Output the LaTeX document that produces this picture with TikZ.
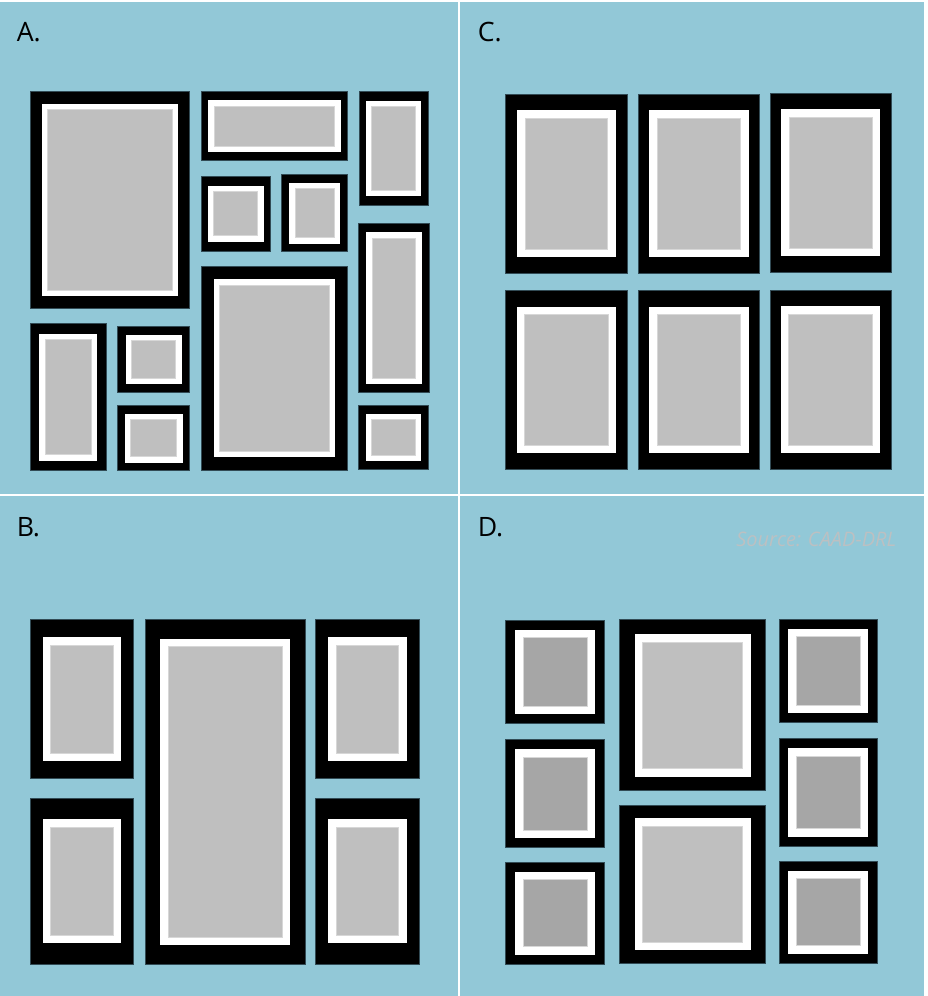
\documentclass[tikz,border=0pt]{standalone}
\usepackage{fontspec}
\setmainfont{Open Sans}
\usepackage{tikz}

\definecolor{wallblue}{RGB}{146,200,215}
\definecolor{photogray}{RGB}{191,191,191}
\definecolor{photodark}{RGB}{166,166,166}
\definecolor{photoedge}{RGB}{215,215,215}
\definecolor{frameedge}{RGB}{50,75,85}
\definecolor{srcgray}{RGB}{188,192,194}

% frame: [photo style]{x1}{y1}{x2}{y2}{black x}{black y}{white}
\newcommand{\wallframe}[8][photo]{%
  \filldraw[frameblk] (#2,#3) rectangle (#4,#5);
  \fill[matte] ({#2+#6},{#3+#7}) rectangle ({#4-#6},{#5-#7});
  \filldraw[#1] ({#2+#6+#8},{#3+#7+#8}) rectangle ({#4-#6-#8},{#5-#7-#8});}

\begin{document}
\begin{tikzpicture}[
  x=0.75pt, y=-0.75pt,
  panel/.style={fill=wallblue},
  frameblk/.style={fill=black, draw=frameedge, line width=0.4pt},
  matte/.style={fill=white},
  photo/.style={fill=photogray, draw=photoedge, line width=0.6pt},
  photodk/.style={fill=photodark, draw=photoedge, line width=0.6pt},
  tag/.style={font=\fontsize{20}{24}\selectfont, anchor=base west, inner sep=0pt}
]
\useasboundingbox (0,0) rectangle (928,996);
\fill[white] (0,0) rectangle (928,996);
\fill[panel] (0,2.3) rectangle (457.7,493.5);
\fill[panel] (460.3,2.3) rectangle (924,493.5);
\fill[panel] (0,496.3) rectangle (457.7,996);
\fill[panel] (460.3,496.3) rectangle (924,996);

% A.
\node[tag] (labA) at (16.5,41) {A.};
\wallframe{30.7}{91.7}{189.7}{308.3}{11.5}{12.5}{5.5}
\wallframe{201}{91.7}{347.7}{160.3}{7.2}{8.4}{6}
\wallframe{359}{91.7}{428}{205.3}{6.8}{9}{6}
\wallframe{201}{176}{270}{251.3}{6.5}{9.7}{6}
\wallframe{281.7}{174.7}{347.7}{251.3}{7.7}{7.8}{6}
\wallframe{358.3}{223.3}{429.3}{392.7}{7.8}{8.9}{5.9}
\wallframe{201}{266}{347.7}{470.3}{13}{13.2}{5.7}
\wallframe{30.7}{323.7}{106}{470.3}{8.6}{9.8}{5.8}
\wallframe{117.3}{326}{189.7}{392.7}{8.2}{8.8}{5.8}
\wallframe{117.3}{405.7}{189.7}{470.3}{7.2}{7.8}{5.8}
\wallframe{358.3}{405.7}{428}{469}{7.2}{8.2}{5.8}

% C.
\node[tag] (labC) at (477.5,41.5) {C.};
\wallframe{505.7}{94}{627}{273.3}{11.2}{16.1}{8}
\wallframe{638.3}{94}{759.3}{273.3}{10.8}{16.1}{8}
\wallframe{770.3}{93.3}{891}{272.3}{10.7}{16}{8}
\wallframe{505.7}{290.3}{627}{469.7}{11.2}{16.3}{7.8}
\wallframe{638.3}{290.3}{759.3}{469.7}{10.8}{16.3}{7.8}
\wallframe{770.3}{290}{891}{469.3}{10.7}{16.3}{7.8}

% B.
\node[tag] (labB) at (16.5,536) {B.};
\wallframe{30}{619.7}{133.7}{778.7}{12.7}{17.5}{7.8}
\wallframe{145}{619.7}{305.3}{964}{15.1}{19.3}{7.8}
\wallframe{315.7}{619.7}{419}{778.7}{12.3}{17.6}{8.2}
\wallframe{30}{798.7}{133.7}{964}{12.7}{20.6}{7.8}
\wallframe{315.7}{798.7}{419}{964}{12.5}{20.6}{7.8}

% D.
\node[tag] (labD) at (477.5,536) {D.};
\node[anchor=base west, inner sep=0pt, text=srcgray,
  font=\itshape\fontsize{15}{18}\selectfont] (source) at (736,546.5) {Source: CAAD-DRL};
\wallframe[photodk]{505.7}{620.3}{604.3}{723.3}{9.3}{9.5}{7.9}
\wallframe{619.7}{619.7}{765.7}{790.7}{15.1}{14.2}{8}
\wallframe[photodk]{779}{619.3}{877.3}{722.3}{9.1}{9.3}{8}
\wallframe[photodk]{505.7}{739.3}{604.3}{847.7}{9.3}{9.8}{8}
\wallframe[photodk]{779}{738}{877.3}{846.7}{9.1}{10.2}{8}
\wallframe{619.7}{805.3}{765.7}{963}{15.1}{12.9}{8}
\wallframe[photodk]{505.7}{862.3}{604.3}{964}{9.3}{9.2}{8}
\wallframe[photodk]{779}{861.3}{877.3}{963}{9.1}{9.2}{8}
\end{tikzpicture}
\end{document}
